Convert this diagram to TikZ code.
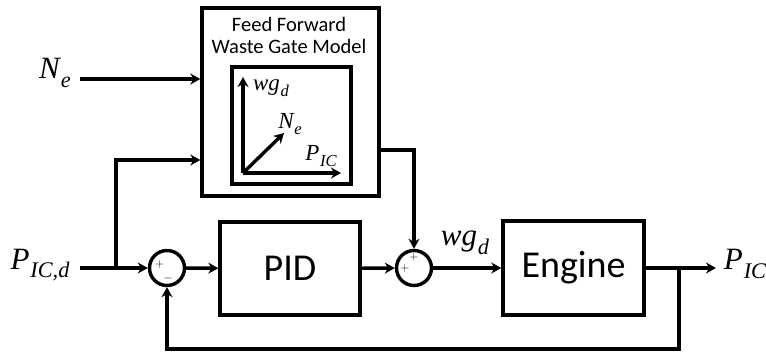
\documentclass[tikz,border=0pt]{standalone}
\usepackage{fontspec}
\setmainfont{Carlito}
\newfontfamily\lblfont{Liberation Serif}
\usetikzlibrary{arrows.meta}
% italic symbol with a lowered, smaller italic subscript
\newcommand\sym[2]{{\lblfont\itshape #1\kern0.03em\raisebox{-0.28em}{\scalebox{0.72}{#2}}}}
\begin{document}
\begin{tikzpicture}[x=1pt,y=-1pt,
  wire/.style={line width=3.4pt},
  sig/.style={wire,-{Stealth[length=10pt,width=11pt]}},
  block/.style={draw,line width=3.4pt,rectangle,inner sep=0pt},
  sumnode/.style={draw,line width=3.4pt,circle,minimum size=35pt,inner sep=0pt},
  bigmath/.style={font=\fontsize{31}{32}\selectfont},
  smallmath/.style={font=\fontsize{23}{24}\selectfont},
  sign/.style={font=\fontsize{13}{13}\selectfont,inner sep=0pt}]
\useasboundingbox (0,0) rectangle (766,352);

% feed-forward block with its map
\node[block,minimum width=177pt,minimum height=188pt] (ff) at (290.5,102) {};
\node[font=\fontsize{20.5}{21.5}\selectfont,align=center] (fftxt) at (289,35.5)
  {Feed Forward\\[1pt]Waste Gate Model};
\node[block,minimum width=119pt,minimum height=117pt] (map) at (291.5,125.5) {};
\coordinate (o) at (243,173);
\coordinate (ytop) at (243,77);
\coordinate (xend) at (341,173);
\coordinate (dend) at (284,133);
\draw[sig] (o) -- (ytop);
\draw[sig] (o) -- (xend);
\draw[sig] (o) -- (dend);
\node[smallmath] (lwg) at (271,88) {\sym{wg}{d}};
\node[smallmath] (lne) at (290,124) {\sym{N}{e}};
\node[smallmath] (lpic) at (321,156) {\sym{P}{IC}};

% main loop blocks
\node[block,minimum width=140pt,minimum height=93pt,font=\fontsize{38}{40}\selectfont] (pid) at (290,268.5) {PID};
\node[block,minimum width=141pt,minimum height=94pt,font=\fontsize{38}{40}\selectfont] (eng) at (573.5,268) {Engine};
\node[sumnode] (s1) at (167,268) {};
\node[sumnode] (s2) at (414,268) {};
\node[sign] (s1p) at (159.5,265) {$+$};
\node[sign] (s1m) at (168,278.5) {$-$};
\node[sign] (s2a) at (405,269) {$+$};
\node[sign] (s2b) at (414,258) {$+$};

% signal labels
\node[bigmath] (ne) at (55,73) {\sym{N}{e}};
\node[bigmath] (picd) at (40,265) {\sym{P}{IC,d}};
\node[bigmath] (pic) at (745,264) {\sym{P}{IC}};
\node[bigmath] (wgd) at (465,243) {\sym{wg}{d}};

% connectors
\coordinate (nein) at (80,79);
\coordinate (pin) at (80,268);
\coordinate (br) at (116,268);
\coordinate (brup) at (116,160);
\coordinate (ffo) at (414,150);
\coordinate (yb) at (679,268);
\coordinate (yout) at (716,268);
\coordinate (fb1) at (679,349);
\coordinate (fb2) at (167,349);

\draw[sig] (nein) -- (nein -| ff.west);
\draw[wire] (pin) -- (br);
\draw[sig] (br) -- (s1);
\draw[sig] (br) -- (brup) -- (brup -| ff.west);
\draw[sig] (s1) -- (pid);
\draw[sig] (pid) -- (s2);
\draw[sig] (ffo -| ff.east) -- (ffo) -- (s2);
\draw[sig] (s2) -- (eng);
\draw[sig] (eng) -- (yout);
\draw[sig] (yb) -- (fb1) -- (fb2) -- (s1);
\end{tikzpicture}
\end{document}
